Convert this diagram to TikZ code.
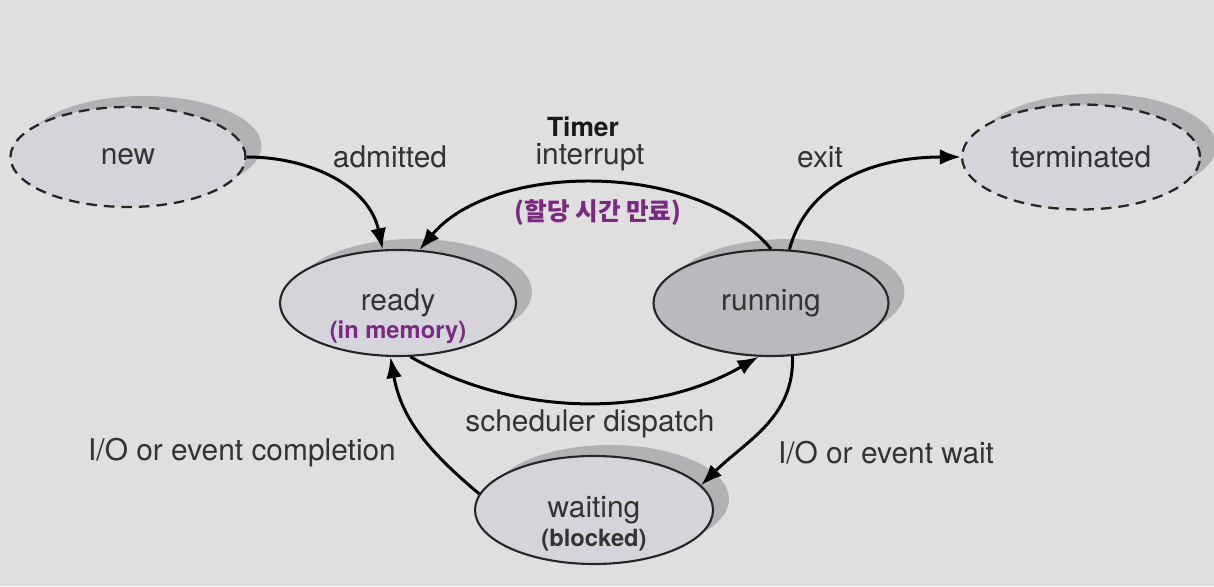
\documentclass[tikz,border=0pt]{standalone}
\usepackage{fontspec}
\setmainfont{TeX Gyre Heros}
\newfontfamily\krfont{Noto Sans CJK KR}
\usetikzlibrary{shapes.geometric,shadows,arrows.meta}
\definecolor{bgcol}{HTML}{DFDFDF}
\definecolor{statefill}{HTML}{D4D4DA}
\definecolor{runfill}{HTML}{BABABE}
\definecolor{shadecol}{HTML}{B2B2B4}
\definecolor{txt}{HTML}{333333}
\definecolor{note}{HTML}{7A2A80}

\begin{document}
\begin{tikzpicture}[
    state/.style={ellipse,draw=black!85,line width=1.2pt,fill=statefill,inner sep=0pt,
      minimum width=4.72cm,minimum height=2.12cm,text=txt,font=\fontsize{17}{20}\selectfont,
      drop shadow={shadow xshift=0.32cm,shadow yshift=0.22cm,fill=shadecol,opacity=1}},
    dashstate/.style={state,dash pattern=on 6pt off 4pt,line width=1.3pt},
    sub/.style={font=\bfseries\fontsize{13.5}{16}\selectfont},
    lbl/.style={text=txt,font=\fontsize{17}{20}\selectfont},
    trans/.style={line width=1.7pt,-{Latex[length=12pt,width=9pt]}}]
  \fill[bgcol] (0,0) rectangle (24.28,11.72);
  % states
  \node[dashstate,minimum width=4.7cm,minimum height=2cm] (new) at (2.56,8.58) {new};
  \node[dashstate,minimum width=4.76cm,minimum height=2.1cm] (terminated) at (21.62,8.58) {terminated};
  \node[state] (ready) at (7.96,5.66) {ready};
  \node[state,fill=runfill,minimum width=4.7cm] (running) at (15.42,5.66) {running};
  \node[state,minimum width=4.76cm,minimum height=2.16cm] (waiting) at (11.88,1.52) {waiting};
  \node[sub,text=note] (readynote) at ([yshift=-0.58cm]ready.center) {(in memory)};
  \node[sub,text=txt] (waitnote) at ([yshift=-0.6cm]waiting.center) {(blocked)};
  % transitions
  \draw[trans] (new.east) to[out=0,in=102] (ready.106);
  \draw[trans] (running.90) to[out=130,in=50,looseness=0.84] (ready.68);
  \draw[trans] (running.71) to[out=75,in=180] (terminated.west);
  \draw[trans] (ready.-77) to[out=-30,in=-150,looseness=0.9] (running.-103);
  \draw[trans] (running.-68) to[out=-88,in=45] (waiting.13);
  \draw[trans] (waiting.172) to[out=140,in=-80] (ready.-98);
  % labels
  \node[lbl] (admitted) at (7.8,8.58) {admitted};
  \node[font=\bfseries\fontsize{15}{18}\selectfont,text=black!90,inner sep=0pt] (timer) at (11.66,9.18) {Timer};
  \node[lbl,inner sep=0pt] (interrupt) at (11.8,8.58) {interrupt};
  \node[font=\krfont\bfseries\fontsize{14}{17}\selectfont,text=note] (quantum) at (11.96,7.46) {(할당 시간 만료)};
  \node[lbl] (exit) at (16.4,8.58) {exit};
  \node[lbl] (dispatch) at (11.8,3.24) {scheduler dispatch};
  \node[lbl] (completion) at (4.84,2.66) {I/O or event completion};
  \node[lbl] (wait) at (17.72,2.66) {I/O or event wait};
\end{tikzpicture}
\end{document}
